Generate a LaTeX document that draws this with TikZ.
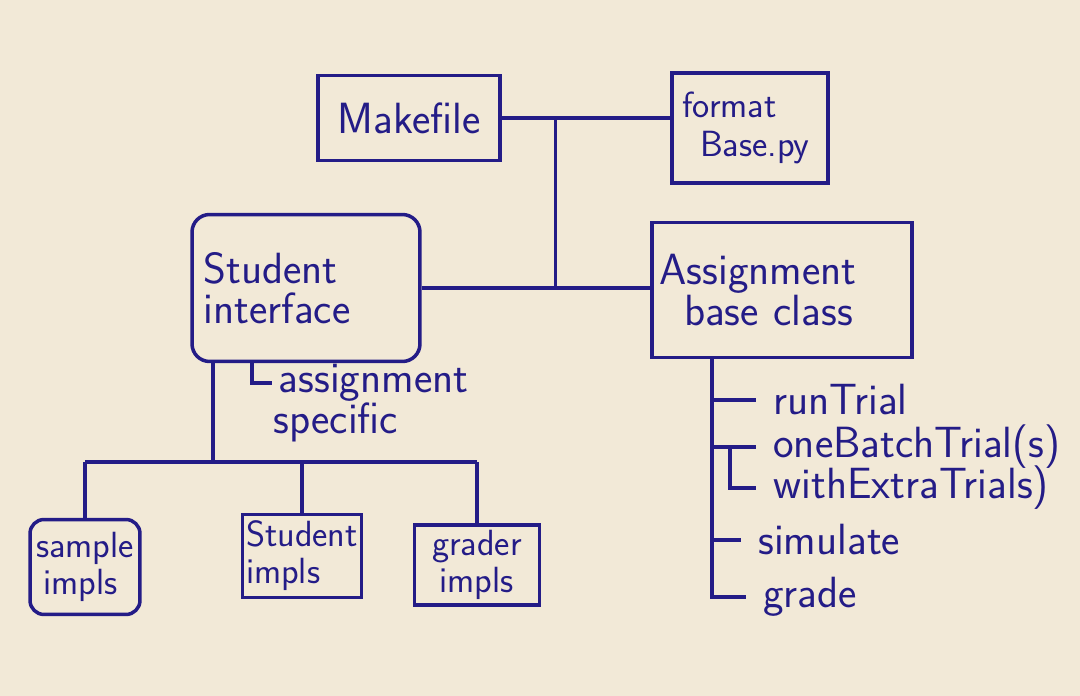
\documentclass[tikz,border=0pt]{standalone}
\usepackage{tikz}
\usetikzlibrary{positioning}
\definecolor{inkblue}{RGB}{36,28,135}
\definecolor{paper}{RGB}{242,233,215}

\begin{document}
\begin{tikzpicture}[x=0.02cm, y=-0.02cm, line width=1.8pt, draw=inkblue,
  box/.style={draw=inkblue, line width=2pt, font=\sffamily\Huge, text=inkblue, align=left},
  small/.style={box, font=\sffamily\huge, inner sep=2pt},
  lbl/.style={font=\sffamily\Huge, text=inkblue, anchor=west, inner xsep=9pt, inner ysep=0pt}
]
\useasboundingbox (0,0) rectangle (1080,696);
\fill[paper] (0,0) rectangle (1080,696);

% top row
\node[box, minimum width=3.64cm, minimum height=1.7cm] (make) at (409,118) {Makefile};
\node[box, font=\sffamily\huge, minimum width=3.12cm, minimum height=2.2cm, text width=2.7cm] (fmt) at (750,128)
  {format\\[-3pt]\hspace*{10pt}Base.py};

% middle row
\node[box, rounded corners=10pt, minimum width=4.56cm, minimum height=2.94cm, text width=4.1cm] (stud) at (306,288)
  {Student\\[-7pt]interface};
\node[box, minimum width=5.2cm, minimum height=2.7cm, text width=4.9cm] (base) at (782,290)
  {Assignment\\[-7pt]\hspace*{14pt}base class};

% bottom row
\node[small, rounded corners=8pt, minimum width=2.2cm, minimum height=1.9cm] (sample) at (85,567) {sample\\[-4pt]\hspace*{4pt}impls};
\node[small, minimum width=2.26cm, minimum height=1.66cm] (simpl) at (302,556) {Student\\[-4pt]impls};
\node[small, minimum width=2.5cm, minimum height=1.6cm] (grader) at (477,565) {grader\\[-4pt]\hspace*{4pt}impls};

% links between top and middle
\path (make.east) -- (make.east -| fmt.west) coordinate[pos=0.32] (jt);
\path (stud.east) -- (stud.east -| base.west) coordinate[pos=0.58] (jm);
\draw (make.east) -- (make.east -| fmt.west);
\draw (stud.east) -- (stud.east -| base.west);
\draw (jt) -- (jt |- jm);

% assignment specific
\node[lbl, inner xsep=3pt] (asg) at (272,383) {assignment};
\node[lbl, inner xsep=0pt] (spec) at (272,422) {specific};
\coordinate (sp) at (252,0);
\draw (stud.south -| sp) |- (asg.west);

% impl tree
\coordinate (drop) at (213,462);
\draw (stud.south -| drop) -- (drop);
\draw (sample.north |- drop) -- (grader.north |- drop);
\foreach \b in {sample,simpl,grader}
  \draw (\b.north |- drop) -- (\b.north);

% methods of the base class
\node[lbl] (run) at (756,400) {runTrial};
\node[lbl] (batch) at (756,447) {oneBatchTrial(s)};
\node[lbl] (extra) at (756,488) {withExtraTrials)};
\node[lbl] (sim) at (741,540) {simulate};
\node[lbl] (grade) at (746,597) {grade};
\coordinate (rl) at (712,0);
\coordinate (br) at (730,0);
\draw (base.south -| rl) |- (grade.west);
\draw (rl |- run.west) -- (run.west);
\draw (rl |- batch.west) -- (batch.west);
\draw (batch.west -| br) |- (extra.west);
\draw (rl |- sim.west) -- (sim.west);
\end{tikzpicture}
\end{document}
